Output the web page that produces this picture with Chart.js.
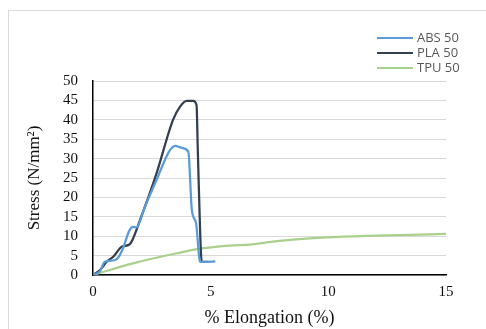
<!DOCTYPE html>
<html>
<head>
<meta charset="utf-8">
<script src="https://cdn.jsdelivr.net/npm/chart.js@4"></script>
<style>
  html, body { margin: 0; padding: 0; background: #fff; }
  #wrap { width: 486px; height: 329px; }
</style>
</head>
<body>
<div id="wrap"><canvas id="stressChart" width="486" height="329"></canvas></div>
<script>
// stress-strain readings taken off the figure
const absX = [0, 0.3, 0.5, 0.9, 1.05, 1.25, 1.55, 1.7, 1.85, 2.2, 2.7, 3.25, 3.5, 3.75, 4.05, 4.2, 4.38, 4.55, 4.7, 5.2];
const absY = [0, 1.0, 3.4, 3.8, 4.3, 6.5, 11.5, 12.4, 12.3, 17.5, 24.5, 32.0, 33.3, 32.8, 31.8, 16.8, 13.3, 3.4, 3.4, 3.5];

const plaX = [0, 0.3, 0.58, 0.86, 1.22, 1.5, 1.64, 2.0, 2.7, 3.4, 3.7, 3.98, 4.26, 4.4, 4.45, 4.55, 4.62, 4.9];
const plaY = [0, 1.3, 3.4, 4.7, 7.3, 7.7, 8.6, 14.2, 26.2, 40.0, 43.4, 44.9, 44.9, 43.8, 33.0, 11.6, 3.4, 3.4];

const tpuX = [0, 1.7, 3.56, 4.69, 5.82, 6.67, 7.38, 8.5, 9.92, 11.6, 13.05, 15.0];
const tpuY = [0, 3.0, 5.6, 6.9, 7.6, 7.8, 8.4, 9.1, 9.7, 10.1, 10.3, 10.6];

const seriesNames = ['ABS 50', 'PLA 50', 'TPU 50'];
const seriesColors = ['#5b9bd5', '#333f50', '#a9d18e'];

const xTicks = [0, 5, 10, 15];
const yTicks = [0, 5, 10, 15, 20, 25, 30, 35, 40, 45, 50];

function toPoints(xs, ys) {
    return xs.map((x, i) => ({ x: x, y: ys[i] }));
}

// light outer frame of the original figure
const framePlugin = {
    id: 'frame',
    beforeDraw(chart) {
        const ctx = chart.ctx;
        ctx.save();
        ctx.strokeStyle = '#d9d9d9';
        ctx.lineWidth = 1;
        ctx.strokeRect(8.5, 10.5, 600, 600);
        ctx.restore();
    }
};

// legend in the upper right corner, one row per series
const sideLegend = {
    id: 'sideLegend',
    afterDraw(chart) {
        const ctx = chart.ctx;
        ctx.save();
        ctx.font = '13px "Open Sans", sans-serif';
        ctx.textBaseline = 'middle';
        chart.data.datasets.forEach((ds, i) => {
            const y = 38 + i * 15;
            ctx.strokeStyle = ds.borderColor;
            ctx.lineWidth = 2;
            ctx.beginPath();
            ctx.moveTo(377, y);
            ctx.lineTo(413, y);
            ctx.stroke();
            ctx.fillStyle = '#595959';
            ctx.fillText(ds.label, 417, y + 0.5);
        });
        ctx.restore();
    }
};

const datasets = [
    toPoints(absX, absY),
    toPoints(plaX, plaY),
    toPoints(tpuX, tpuY)
].map((pts, i) => ({
    label: seriesNames[i],
    data: pts,
    borderColor: seriesColors[i],
    backgroundColor: seriesColors[i],
    borderWidth: 2.25,
    pointRadius: 0,
    cubicInterpolationMode: 'monotone',
    fill: false
}));

const serif = '"Liberation Serif", "Times New Roman", serif';

new Chart(document.getElementById('stressChart').getContext('2d'), {
    type: 'line',
    data: { datasets: datasets },
    options: {
        responsive: false,
        animation: false,
        layout: { padding: { top: 81, right: 40, bottom: 0, left: 0 } },
        plugins: {
            legend: { display: false },
            tooltip: { enabled: false }
        },
        scales: {
            x: {
                type: 'linear',
                min: 0,
                max: 15,
                afterBuildTicks(scale) { scale.ticks = xTicks.map(v => ({ value: v })); },
                afterFit(scale) { scale.height = 54; },
                grid: { display: false, drawTicks: false },
                border: { color: '#000', width: 1.5 },
                ticks: {
                    autoSkip: false,
                    padding: 8,
                    color: '#111',
                    font: { family: serif, size: 15 }
                },
                title: {
                    display: true,
                    text: '% Elongation (%)',
                    color: '#111',
                    padding: { top: 0, bottom: 0 },
                    font: { family: serif, size: 18 }
                }
            },
            y: {
                min: 0,
                max: 50,
                afterBuildTicks(scale) { scale.ticks = yTicks.map(v => ({ value: v })); },
                afterFit(scale) { scale.width = 93; },
                grid: { color: '#d9d9d9', lineWidth: 1, drawTicks: false },
                border: { color: '#000', width: 1.5 },
                ticks: {
                    autoSkip: false,
                    padding: 15,
                    color: '#111',
                    font: { family: serif, size: 15 }
                },
                title: {
                    display: true,
                    text: 'Stress (N/mm²)',
                    color: '#111',
                    padding: { top: 24, bottom: 0 },
                    font: { family: serif, size: 17 }
                }
            }
        }
    },
    plugins: [framePlugin, sideLegend]
});
</script>
</body>
</html>
